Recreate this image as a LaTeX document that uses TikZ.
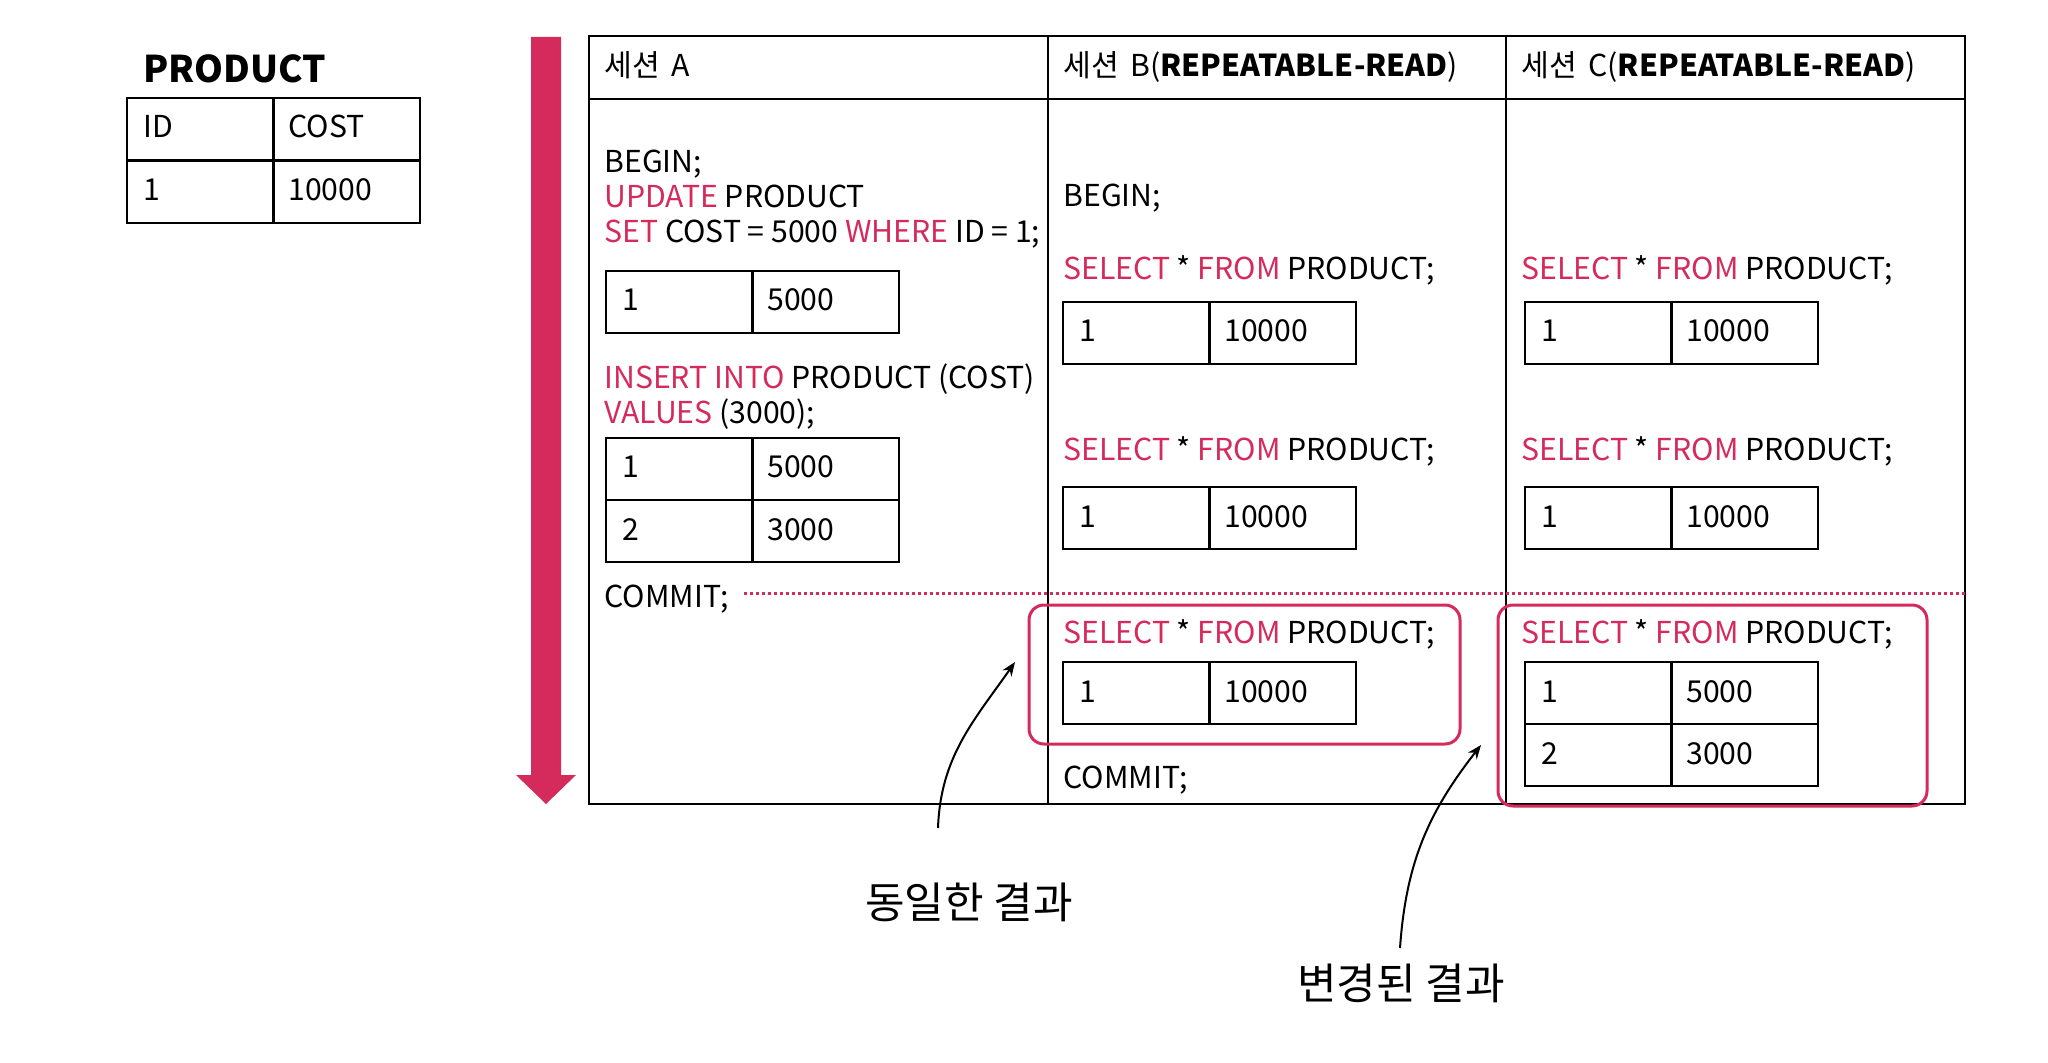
\documentclass[tikz,border=0pt]{standalone}
\usepackage{fontspec}
\setmainfont{Noto Sans CJK KR}
\usetikzlibrary{arrows.meta}
\definecolor{accent}{RGB}{213,43,92}
\newcommand\kw[1]{\textcolor{accent}{#1}}
\newcommand\hsp{\hspace{0.38em}}
\tikzset{
  txt/.style={anchor=base west, inner sep=0pt, font=\fontsize{15.1}{18}\selectfont},
  tbl/.style={draw=black, line width=1.2pt},
  frame/.style={draw=black, line width=1.3pt},
  redbox/.style={draw=accent, line width=1.5pt, rounded corners=7.5pt},
  callout/.style={draw=black, line width=1pt, -{Stealth[length=7pt,width=5.5pt]}},
  lbl/.style={inner sep=0pt, font=\fontsize{21.5}{26}\selectfont},
  dotline/.style={draw=accent, line width=1.5pt, dash pattern=on 1.5pt off 1.5pt},
}
\newcommand\dbrow[5]{%
  \draw[tbl] (#2,#3) rectangle ++(146.5,62);
  \draw[tbl] (#2+146.5,#3) rectangle ++(146.5,62);
  \node[txt] (#1a) at (#2+16,#3+40) {#4};
  \node[txt] (#1b) at (#2+161,#3+40) {#5};
}
\begin{document}
\begin{tikzpicture}[x=0.5pt,y=-0.5pt]
\useasboundingbox (0,0) rectangle (2048,1063);
\fill[white] (0,0) rectangle (2048,1063);

% PRODUCT table
\node[txt, font=\fontsize{18.4}{22}\selectfont\bfseries] (title) at (143,83) {PRODUCT};
\dbrow{ph}{127}{98}{ID}{COST}
\dbrow{pr}{127}{161}{1}{10000}

% time arrow
\fill[accent] (531,37) -- (561,37) -- (561,775) -- (576,775) -- (546,804) -- (516,775) -- (531,775) -- cycle;

% main frame
\draw[frame] (589,36) rectangle (1965,804);
\draw[frame] (589,99) -- (1965,99);
\draw[frame] (1048,36) -- (1048,804);
\draw[frame] (1506,36) -- (1506,804);

% headers
\node[txt] (hA) at (604,77) {세션\hsp A};
\node[txt] (hB) at (1063,77) {세션\hsp B(\textbf{REPEATABLE-READ})};
\node[txt] (hC) at (1521,77) {세션\hsp C(\textbf{REPEATABLE-READ})};

% session A
\node[txt] (a1) at (604,173) {BEGIN;};
\node[txt] (a2) at (604,208) {\kw{UPDATE} PRODUCT};
\node[txt] (a3) at (604,243) {\kw{SET} COST = 5000 \kw{WHERE} ID = 1;};
\dbrow{ar1}{606}{271}{1}{5000}
\node[txt] (a4) at (604,389) {\kw{INSERT INTO} PRODUCT (COST)};
\node[txt] (a5) at (604,424) {\kw{VALUES} (3000);};
\dbrow{ar2}{606}{438}{1}{5000}
\dbrow{ar3}{606}{500}{2}{3000}
\node[txt] (commitA) at (604,607) {COMMIT;};
\coordinate (dotS) at (744,593);
\coordinate (dotE) at (1965,593);
\draw[dotline] (dotS) -- (dotE);

% session B
\node[txt] (b1) at (1063,207) {BEGIN;};
\node[txt] (b2) at (1063,280) {\kw{SELECT} * \kw{FROM} PRODUCT;};
\dbrow{br1}{1063}{302}{1}{10000}
\node[txt] (b3) at (1063,460) {\kw{SELECT} * \kw{FROM} PRODUCT;};
\dbrow{br2}{1063}{487}{1}{10000}
\draw[redbox] (1029,605) rectangle (1460,744);
\node[txt] (b4) at (1063,643) {\kw{SELECT} * \kw{FROM} PRODUCT;};
\dbrow{br3}{1063}{662}{1}{10000}
\node[txt] (commitB) at (1063,788) {COMMIT;};

% session C
\node[txt] (c1) at (1521,280) {\kw{SELECT} * \kw{FROM} PRODUCT;};
\dbrow{cr1}{1525}{302}{1}{10000}
\node[txt] (c2) at (1521,460) {\kw{SELECT} * \kw{FROM} PRODUCT;};
\dbrow{cr2}{1525}{487}{1}{10000}
\draw[redbox] (1498,605) rectangle (1927,806);
\node[txt] (c3) at (1521,643) {\kw{SELECT} * \kw{FROM} PRODUCT;};
\dbrow{cr3}{1525}{662}{1}{5000}
\dbrow{cr4}{1525}{724}{2}{3000}

% callouts
\node[lbl] (same) at (969,902) {동일한 결과};
\node[lbl] (changed) at (1401,983) {변경된 결과};
\coordinate (s1) at (938,828);
\coordinate (e1) at (1015,662);
\coordinate (s2) at (1400,948);
\coordinate (e2) at (1481,745);
\draw[callout] (s1) to[out=88,in=-125] (e1);
\draw[callout] (s2) to[out=86,in=-128] (e2);
\end{tikzpicture}
\end{document}
